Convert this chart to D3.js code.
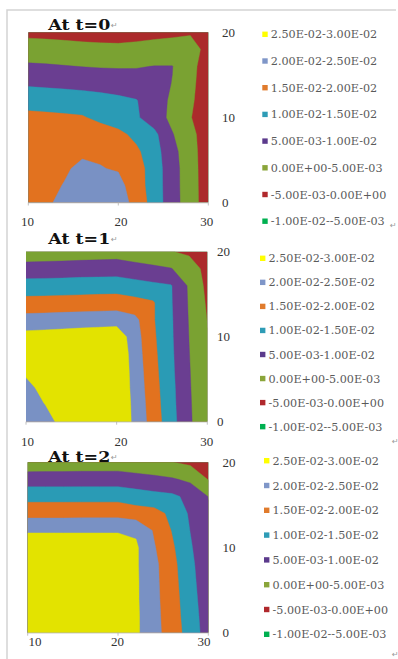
<!DOCTYPE html>
<html><head><meta charset="utf-8">
<script src="https://cdn.jsdelivr.net/npm/d3@7"></script>
<style>body{margin:0;background:#fff}svg{display:block}</style>
</head><body>
<svg id="c" width="398" height="659"></svg>
<script>
// ---- data ----
const xCategories = [10,12,14,16,18,20,22,24,26,28,30];
const yCategories = [0,2,4,6,8,10,12,14,16,18,20];
const xTickValues = [10,20,30];
const yTickValues = [0,10,20];
const thresholds = [-0.01,-0.005,0,0.005,0.01,0.015,0.02,0.025];
const legendLabels = ["2.50E-02-3.00E-02","2.00E-02-2.50E-02","1.50E-02-2.00E-02","1.00E-02-1.50E-02","5.00E-03-1.00E-02","0.00E+00-5.00E-03","-5.00E-03-0.00E+00","-1.00E-02--5.00E-03"];
const titles = ["At t=0","At t=1","At t=2"];
// rows: y = 0,2,...,20 ; columns: x = 10,12,...,30
const gridT0 = [
 [.0180,.0193,.0212,.0225,.0228,.0222,.0185,.0126,.0072,.0021,-.0025],
 [.0181,.0194,.0201,.0218,.0222,.0215,.0174,.0125,.0071,.0020,-.0025],
 [.0182,.0192,.0197,.0205,.0202,.0196,.0173,.0124,.0071,.0019,-.0025],
 [.0184,.0190,.0194,.0196,.0193,.0185,.0159,.0120,.0066,.0017,-.0025],
 [.0176,.0180,.0182,.0180,.0174,.0163,.0137,.0112,.0053,.0013,-.0025],
 [.0163,.0160,.0157,.0154,.0138,.0122,.0106,.0075,.0037,.0002,-.0025],
 [.0130,.0128,.0126,.0122,.0117,.0110,.0102,.0074,.0041,.0007,-.0025],
 [.0093,.0090,.0087,.0084,.0080,.0076,.0071,.0064,.0049,.0011,-.0025],
 [.0057,.0055,.0052,.0049,.0047,.0046,.0047,.0051,.0051,.0015,-.0025],
 [.0023,.0021,.0018,.0015,.0013,.0012,.0013,.0015,.0017,.0013,-.0010],
 [-.0012,-.0014,-.0016,-.0019,-.0021,-.0022,-.0016,-.0011,-.0008,-.0003,-.0002]
];
const gridT1 = [
 [.0215,.0235,.0260,.0280,.0290,.0295,.0239,.0179,.0119,.0059,.0004],
 [.0225,.0249,.0265,.0283,.0291,.0295,.0237,.0175,.0116,.0057,.0004],
 [.0238,.0262,.0272,.0286,.0292,.0295,.0233,.0171,.0114,.0055,.0003],
 [.0258,.0272,.0278,.0288,.0292,.0295,.0230,.0167,.0111,.0053,.0003],
 [.0272,.0278,.0282,.0288,.0291,.0294,.0226,.0163,.0109,.0051,.0002],
 [.0267,.0270,.0273,.0277,.0280,.0283,.0222,.0159,.0107,.0049,.0001],
 [.0218,.0220,.0222,.0224,.0226,.0228,.0213,.0155,.0106,.0047,-.0001],
 [.0168,.0169,.0171,.0172,.0174,.0175,.0166,.0155,.0104,.0045,-.0006],
 [.0120,.0121,.0122,.0124,.0125,.0126,.0118,.0110,.0103,.0043,-.0012],
 [.0071,.0072,.0073,.0075,.0076,.0077,.0069,.0061,.0052,.0024,-.0015],
 [.0018,.0020,.0022,.0024,.0026,.0028,.0019,.0010,.0002,-.0008,-.0020]
];
const gridT2 = [
 [.0295,.0296,.0296,.0296,.0295,.0295,.0258,.0217,.0175,.0129,.0076],
 [.0296,.0296,.0296,.0296,.0295,.0295,.0258,.0216,.0172,.0125,.0073],
 [.0296,.0296,.0296,.0296,.0295,.0295,.0257,.0214,.0170,.0121,.0069],
 [.0295,.0295,.0296,.0295,.0295,.0295,.0257,.0213,.0167,.0117,.0065],
 [.0294,.0294,.0294,.0294,.0294,.0294,.0256,.0212,.0164,.0113,.0061],
 [.0292,.0292,.0291,.0291,.0291,.0290,.0257,.0204,.0157,.0106,.0058],
 [.0243,.0243,.0243,.0243,.0243,.0243,.0243,.0195,.0147,.0099,.0056],
 [.0184,.0184,.0184,.0185,.0185,.0185,.0173,.0168,.0138,.0093,.0054],
 [.0132,.0132,.0132,.0132,.0132,.0132,.0123,.0115,.0109,.0088,.0049],
 [.0075,.0075,.0075,.0076,.0076,.0076,.0069,.0063,.0055,.0040,-.0002],
 [.0019,.0020,.0020,.0021,.0021,.0022,.0016,.0009,.0001,-.0009,-.0025]
];

// ---- styles / layout ----
const bandColors = ["#00b050","#ab2b2b","#7aa232","#6a3e91","#2a9bb5","#e2721f","#7991c4","#e3e300"];
const legendColors = ["#ffff00","#7f96c8","#e07b2c","#2e9cb6","#5b3a8c","#8aa53a","#b0282c","#00b050"];
const panels = [
  {grid:gridT0, title:titles[0], left:28.3, right:208.3, top:32.3, bottom:202.5,
   titleY:30, xLabY:226, xLabRange:[27.5,206.7], xLab20:121, yLabX:222,
   legX:262.3, legY0:34.3, legStep:26.7},
  {grid:gridT1, title:titles[1], left:26, right:207.3, top:251.7, bottom:421.7,
   titleY:243.5, xLabY:446, xLabRange:[27.5,206.7], xLab20:121, yLabX:217,
   legX:260, legY0:258.3, legStep:24.05},
  {grid:gridT2, title:titles[2], left:27.7, right:208.3, top:462.3, bottom:632.7,
   titleY:461.5, xLabY:646, xLabRange:[35,204], xLab20:117.5, yLabX:222.5,
   legX:264, legY0:460.7, legStep:24.8}
];

const svg = d3.select("#c");
svg.append("rect").attr("width",398).attr("height",659).attr("fill","#fff");
// document frame
svg.append("path").attr("d","M7,659V10H396").attr("fill","none").attr("stroke","#d3d3d3").attr("stroke-width",1.5);

const nx = xCategories.length, ny = yCategories.length;
const gx = d3.scaleLinear().domain([0.5, nx-0.5]).range([xCategories[0], xCategories[nx-1]]);
const gy = d3.scaleLinear().domain([0.5, ny-0.5]).range([yCategories[0], yCategories[ny-1]]);

panels.forEach((p,k)=>{
  const g = svg.append("g");
  const xS = d3.scaleLinear().domain([10,30]).range([p.left,p.right]);
  const yS = d3.scaleLinear().domain([0,20]).range([p.bottom,p.top]);
  const values = p.grid.flat();
  const contours = d3.contours().size([nx,ny]).thresholds(thresholds)(values);
  const proj = d3.geoTransform({point(x,y){ this.stream.point(xS(gx(x)), yS(gy(y))); }});
  const path = d3.geoPath(proj);
  const cid = "clip"+k;
  svg.append("clipPath").attr("id",cid).append("rect")
    .attr("x",p.left).attr("y",p.top).attr("width",p.right-p.left).attr("height",p.bottom-p.top);
  g.append("g").attr("clip-path",`url(#${cid})`)
    .selectAll("path").data(contours).join("path")
    .attr("d",path).attr("fill",(d,i)=>bandColors[i]).attr("stroke",(d,i)=>bandColors[i]).attr("stroke-width",0.4);

  // bottom axis ticks
  g.append("line").attr("x1",p.left).attr("x2",p.right).attr("y1",p.bottom+0.5).attr("y2",p.bottom+0.5)
    .attr("stroke","#d0d0d0").attr("stroke-width",0.8);
  g.selectAll(".tk").data(xTickValues).join("line")
    .attr("x1",d=>xS(d)).attr("x2",d=>xS(d)).attr("y1",p.bottom).attr("y2",p.bottom+3)
    .attr("stroke","#b0b0b0").attr("stroke-width",0.8);
  const labX = d3.scaleLinear().domain([10,30]).range(p.xLabRange);
  g.selectAll(".xl").data(xTickValues).join("text")
    .attr("x",d=>d===20?p.xLab20:labX(d)).attr("y",p.xLabY).attr("text-anchor","middle")
    .attr("font-family","Liberation Serif, serif").attr("font-size",13).attr("fill","#333")
    .text(d=>d);
  g.selectAll(".yl").data(yTickValues).join("text")
    .attr("x",p.yLabX).attr("y",d=>yS(d)).attr("dy","0.35em")
    .attr("font-family","Liberation Serif, serif").attr("font-size",13).attr("fill","#333")
    .text(d=>d);

  // title
  const t = g.append("text").attr("x",48.3).attr("y",p.titleY)
    .attr("font-family","DejaVu Serif, serif").attr("font-weight","bold").attr("font-size",15.5).attr("fill","#111");
  t.append("tspan").text(p.title).attr("textLength",62).attr("lengthAdjust","spacingAndGlyphs");
  g.append("text").attr("x",111).attr("y",p.titleY-2).attr("font-family","DejaVu Sans, sans-serif")
    .attr("font-size",8).attr("fill","#999").text("\u21B5");

  // legend
  const leg = g.append("g");
  legendLabels.forEach((lab,i)=>{
    const cy = p.legY0 + i*p.legStep;
    leg.append("rect").attr("x",p.legX).attr("y",cy-2.7).attr("width",5.4).attr("height",5.4).attr("fill",legendColors[i]);
    leg.append("text").attr("x",p.legX+8.5).attr("y",cy).attr("dy","0.36em")
      .attr("font-family","DejaVu Serif, serif").attr("font-size",11.2).attr("fill","#5a5a5a").text(lab);
  });
});
// paragraph marks
[[390,228],[392,444],[392,657]].forEach(([x,y])=>{
  svg.append("text").attr("x",x).attr("y",y).attr("font-family","DejaVu Sans, sans-serif")
    .attr("font-size",8).attr("fill","#999").text("\u21B5");
});
</script>
</body></html>
